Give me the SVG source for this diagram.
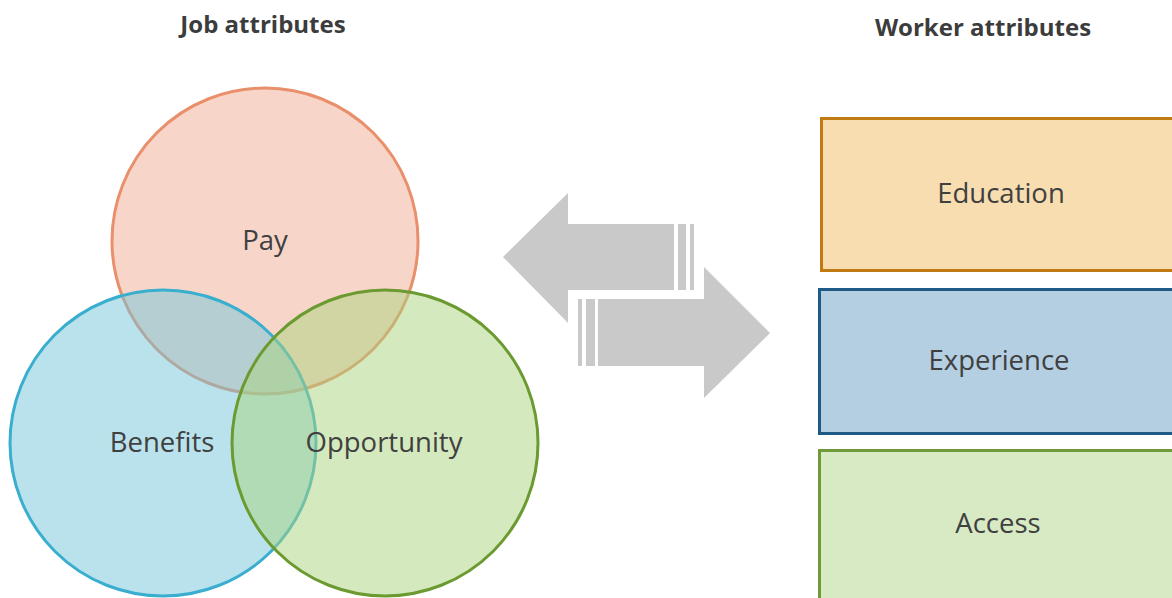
<svg xmlns="http://www.w3.org/2000/svg" width="1172" height="598" viewBox="0 0 1172 598">
<style>
.title{font-family:"Open Sans","Liberation Sans",sans-serif;font-weight:bold;font-size:24px;fill:#3c3c3c;text-anchor:middle}
.lbl{font-family:"Open Sans","Liberation Sans",sans-serif;font-size:27.5px;fill:#404040;text-anchor:middle}
.arrow{fill:#c9c9c9}
</style>
<rect width="1172" height="598" fill="#ffffff"/>
<text class="title" x="263" y="33">Job attributes</text>
<text class="title" x="983" y="36">Worker attributes</text>
<g id="pay"><circle cx="265" cy="241" r="153" fill="#f0ad94" fill-opacity="0.5" stroke="#e98f6c" stroke-width="3"/><text class="lbl" x="265" y="250">Pay</text></g>
<g id="benefits"><circle cx="163" cy="443" r="153" fill="#73c5d9" fill-opacity="0.5" stroke="#3aaecf" stroke-width="3"/></g>
<g id="opportunity"><circle cx="385" cy="443" r="153" fill="#a9d37e" fill-opacity="0.5" stroke="#6a9a30" stroke-width="3"/></g>
<text class="lbl" x="162" y="452">Benefits</text>
<text class="lbl" x="384" y="452">Opportunity</text>
<g id="connectors">
<polygon class="arrow" points="503,257 568,193 568,224 674,224 674,290 568,290 568,323"/>
<rect class="arrow" x="678" y="224" width="8" height="66"/>
<rect class="arrow" x="690" y="224" width="4" height="66"/>
<polygon class="arrow" points="770,333 704,267 704,299 598,299 598,366 704,366 704,398"/>
<rect class="arrow" x="586" y="299" width="9" height="67"/>
<rect class="arrow" x="578" y="299" width="4" height="67"/>
</g>
<g id="education"><rect x="821.5" y="118.5" width="360" height="152" fill="#f8ddb0" stroke="#c07a12" stroke-width="3"/><text class="lbl" x="1001" y="203">Education</text></g>
<g id="experience"><rect x="819.5" y="289.5" width="360" height="144" fill="#b4cfe2" stroke="#1f5a86" stroke-width="3"/><text class="lbl" x="999" y="370">Experience</text></g>
<g id="access"><rect x="819.5" y="450.5" width="360" height="160" fill="#d8eac4" stroke="#6e9a3a" stroke-width="3"/><text class="lbl" x="998" y="533">Access</text></g>
</svg>
